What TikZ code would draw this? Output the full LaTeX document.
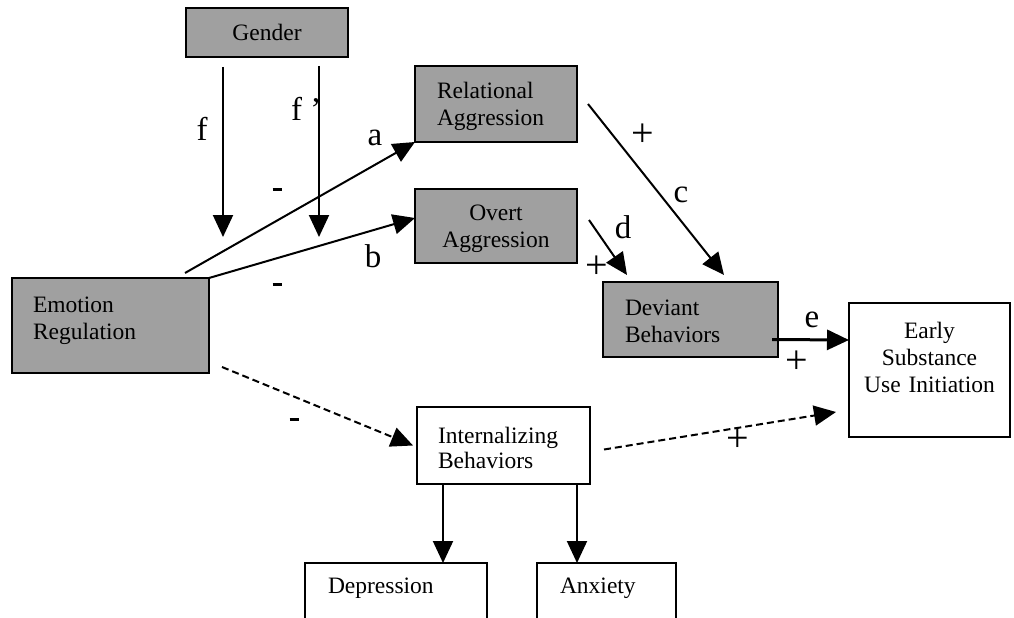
\documentclass[tikz,border=0pt]{standalone}
\usepackage{fontspec}
\setmainfont{Liberation Serif}
\usetikzlibrary{arrows.meta}
\definecolor{boxgray}{RGB}{160,160,160}
\tikzset{
  box/.style={draw=black, line width=2pt, anchor=north west, inner ysep=0pt, outer sep=0pt,
    font=\fontsize{23.5}{27}\selectfont},
  graybox/.style={box, fill=boxgray},
  whitebox/.style={box, fill=white},
  arr/.style={line width=2pt, -{Triangle[length=22pt,width=20pt]}},
  darr/.style={arr, dash pattern=on 7pt off 4pt},
  lab/.style={anchor=base, inner sep=0pt, font=\fontsize{33}{36}\selectfont},
  plus/.style={lab, font=\fontsize{40}{44}\selectfont},
}
\newcommand{\minuslab}{\rule[7pt]{9pt}{3.5pt}}
\begin{document}
\begin{tikzpicture}[x=1pt,y=-1pt]
\useasboundingbox (0,0) rectangle (1014,618);
\clip (0,0) rectangle (1014,618);

% boxes
\node[graybox, inner xsep=10pt, text width=142pt, align=center, text height=33pt, text depth=16pt]
  (gen) at (186,8) {Gender};
\node[graybox, inner xsep=22pt, text width=118pt, align=left, text height=32pt, text depth=44pt]
  (rel) at (415,66) {Relational\\Aggression};
\node[graybox, inner xsep=10pt, text width=142pt, align=center, text height=31pt, text depth=43pt]
  (ov) at (415,189) {Overt\\Aggression};
\node[graybox, inner xsep=21pt, text width=155pt, align=left, text height=34pt, text depth=61pt]
  (emo) at (12,278) {Emotion\\Regulation};
\node[graybox, inner xsep=22pt, text width=131pt, align=left, text height=33pt, text depth=42pt]
  (dev) at (603,282) {Deviant\\Behaviors};
\node[whitebox, inner xsep=21pt, text width=131pt, align=left, text height=36pt, text depth=41pt,
  font=\fontsize{23.5}{25}\selectfont]
  (int) at (417,407) {Internalizing\\Behaviors};
\node[whitebox, inner xsep=6pt, text width=149pt, align=center, text height=35pt, text depth=99pt]
  (early) at (849,303) {Early\\Substance\\Use Initiation};
\node[whitebox, inner xsep=23pt, text width=136pt, align=left, text height=30pt, text depth=47pt]
  (dep) at (305,563) {Depression};
\node[whitebox, inner xsep=23pt, text width=93pt, align=left, text height=30pt, text depth=47pt]
  (anx) at (537,563) {Anxiety};

% free ends
\coordinate (fS) at (223,67);
\coordinate (fE) at (223,237);
\coordinate (fpS) at (319,66);
\coordinate (fpE) at (319,237);
\coordinate (aS) at (185,273);

% connectors
\draw[arr] (fS) -- (fE);
\draw[arr] (fpS) -- (fpE);
\draw[arr] (aS) -- (rel.south west);
\draw[arr] (emo.north east) -- ([yshift=8pt]ov.west);
\draw[arr] ([xshift=11pt]rel.east) -- ([xshift=33.5pt,yshift=7pt]dev.north);
\draw[arr] ([xshift=12pt,yshift=6pt]ov.east) -- ([xshift=24pt,yshift=7pt]dev.north west);
\draw[arr, line width=3pt] ([xshift=-6pt,yshift=-20pt]dev.east) -- ([yshift=30pt]early.west);
\draw[darr] ([xshift=13pt,yshift=6pt]emo.south east) -- ([xshift=-4pt]int.west);
\draw[darr] ([xshift=14pt,yshift=-4pt]int.east) -- ([xshift=-13pt,yshift=-42pt]early.west);
\draw[arr] ([xshift=26pt]int.south west) -- ([xshift=26pt]int.south west |- dep.north);
\draw[arr] ([xshift=-13pt]int.south east) -- ([xshift=-13pt]int.south east |- anx.north);

% labels
\node[lab] (lf) at (202,140) {f};
\node[lab, anchor=base west] (lfp) at (291,120) {f ’};
\node[lab] (la) at (375,145) {a};
\node[lab] (lb) at (373,267) {b};
\node[lab] (lc) at (681,202) {c};
\node[lab] (ld) at (623,238) {d};
\node[lab] (le) at (812,327) {e};
\node[lab] (m1) at (277,198) {\minuslab};
\node[lab] (m2) at (277,293) {\minuslab};
\node[lab] (m3) at (294,428) {\minuslab};
\node[plus] (p1) at (643,146) {+};
\node[plus] (p2) at (597,278) {+};
\node[plus] (p3) at (797,373) {+};
\node[plus] (p4) at (738,451) {+};
\end{tikzpicture}
\end{document}
